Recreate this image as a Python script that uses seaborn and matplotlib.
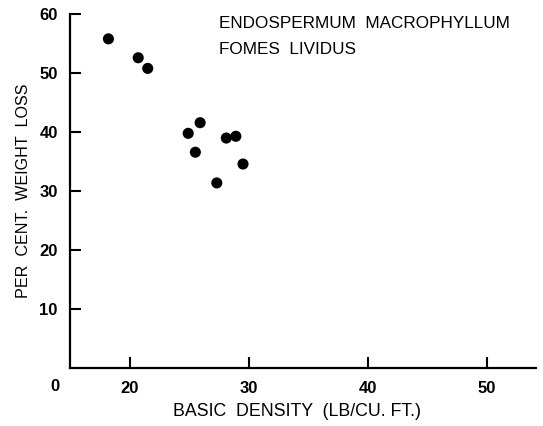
import matplotlib
matplotlib.use("Agg")
import matplotlib.pyplot as plt
import seaborn as sns
import pandas as pd

# Data
density = [18.2, 20.7, 21.5, 24.9, 25.9, 25.5, 27.3, 28.1, 28.9, 29.5]
weight_loss = [55.8, 52.6, 50.8, 39.8, 41.6, 36.6, 31.4, 39.0, 39.3, 34.6]
x_ticks = [20, 30, 40, 50]
y_ticks = [10, 20, 30, 40, 50, 60]
title_lines = ["ENDOSPERMUM  MACROPHYLLUM", "FOMES  LIVIDUS"]

df = pd.DataFrame({"density": density, "loss": weight_loss})

sns.set_style("ticks")
plt.rcParams["font.family"] = ["Liberation Sans", "DejaVu Sans"]
plt.rcParams["text.color"] = "black"
plt.rcParams["axes.labelcolor"] = "black"
plt.rcParams["xtick.color"] = "black"
plt.rcParams["ytick.color"] = "black"

fig = plt.figure(figsize=(5.43, 4.26), dpi=100)
ax = fig.add_axes([0.1295, 0.1354, 0.987 - 0.1295, 0.967 - 0.1354])

sns.scatterplot(data=df, x="density", y="loss", ax=ax, color="black",
                s=64, edgecolor="none", linewidth=0)

ax.set_xlim(15, 54.1)
ax.set_ylim(0, 60)
ax.set_xticks(x_ticks)
ax.set_yticks(y_ticks)
ax.set_xticklabels([str(t) for t in x_ticks], fontsize=12, fontweight="bold")
ax.set_yticklabels([str(t) for t in y_ticks], fontsize=12, fontweight="bold")
ax.tick_params(axis="both", direction="in", length=8, width=1.5, color="black",
               labelcolor="black")
ax.tick_params(axis="x", pad=9)
ax.tick_params(axis="y", pad=9)

for side in ["top", "right"]:
    ax.spines[side].set_visible(False)
for side in ["left", "bottom"]:
    ax.spines[side].set_linewidth(1.6)
    ax.spines[side].set_color("black")

ax.set_xlabel("BASIC  DENSITY  (LB/CU. FT.)", fontsize=12.8, color="black")
ax.xaxis.set_label_coords(0.487, -0.123)
ax.xaxis.label.set_va("center")
ax.set_ylabel("PER  CENT.  WEIGHT  LOSS", fontsize=11.6, labelpad=6,
              color="black")

ax.annotate("0", xy=(15, 0), xytext=(-11, -13), textcoords="offset points",
            ha="center", va="center", fontsize=12, fontweight="bold",
            color="black")

ax.text(0.32, 0.972, title_lines[0], transform=ax.transAxes,
        fontsize=12.3, ha="left", va="center", color="black")
ax.text(0.32, 0.899, title_lines[1], transform=ax.transAxes,
        fontsize=12.3, ha="left", va="center", color="black")

fig.savefig("out.png", dpi=100)
